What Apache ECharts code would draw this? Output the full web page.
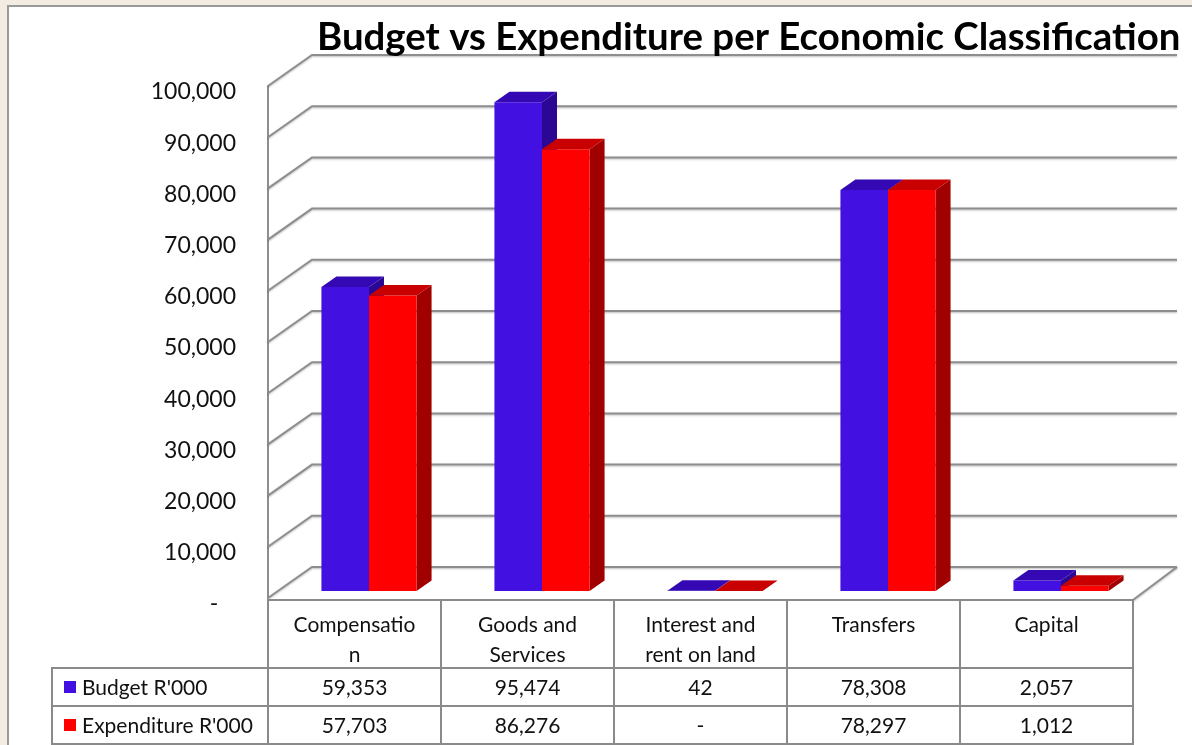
<!DOCTYPE html>
<html>
<head>
<meta charset="utf-8">
<title>Budget vs Expenditure per Economic Classification</title>
<script src="https://cdn.jsdelivr.net/npm/echarts@6/dist/echarts.min.js"></script>
<style>
  html, body { margin: 0; padding: 0; background: #f2ece2; }
  #chart { width: 1192px; height: 745px; }
</style>
</head>
<body>
<div id="chart"></div>
<script>
// ---- data ----
const categories = ['Compensation', 'Goods and Services', 'Interest and rent on land', 'Transfers', 'Capital'];
const headerLabels = ['Compensatio\nn', 'Goods and\nServices', 'Interest and\nrent on land', 'Transfers', 'Capital'];
const seriesNames = ["Budget R'000", "Expenditure R'000"];
const budget = [59353, 95474, 42, 78308, 2057];
const expenditure = [57703, 86276, 0, 78297, 1012];
const yTicks = [0, 10000, 20000, 30000, 40000, 50000, 60000, 70000, 80000, 90000, 100000];

// ---- look ----
const FONT = 'Lato, "Open Sans", sans-serif';
const GRID_COLOR = '#8e8e8e';
const DEPTH_X = 44, DEPTH_Y = 31;          // full floor depth (oblique projection)
const BAR_SHIFT_X = 14.5, BAR_SHIFT_Y = 7; // bars set back from the front edge
const BAR_DEPTH_X = 15, BAR_DEPTH_Y = 10.5;
const BAR_FRAC = 0.275;                    // each bar's share of a category band
const palettes = [
  { front: '#4210e0', top: '#3409b4', side: '#2a0894' },
  { front: '#ff0000', top: '#c80000', side: '#a00000' }
];

const fmt = v => v === 0 ? '-' : v.toLocaleString('en-US');
// accounting-style zero: dash held away from the right edge
const fmtAxis = v => v === 0 ? '-\u00a0\u00a0\u00a0' : v.toLocaleString('en-US');

const chart = echarts.init(document.getElementById('chart'), null, { renderer: 'canvas' });

// back wall, side wall and floor lines for every y tick
function renderWall(params, api) {
  const v = api.value(0);
  const left = api.coord([0, v]);
  const bw = api.size([1, 0])[0];
  const x0 = left[0] - bw / 2;
  const y = left[1];
  const x1 = x0 + bw * categories.length;
  const lineStyle = { stroke: GRID_COLOR, lineWidth: 2, shadowBlur: 2, shadowColor: 'rgba(0,0,0,0.25)', shadowOffsetY: 1 };
  const children = [{
    type: 'polyline',
    shape: { points: [[x0, y], [x0 + DEPTH_X, y - DEPTH_Y], [x1 + DEPTH_X, y - DEPTH_Y]] },
    style: Object.assign({ fill: null }, lineStyle)
  }];
  if (v === 0) {
    children.push({
      type: 'line',
      shape: { x1: x1, y1: y + 2, x2: x1 + DEPTH_X, y2: y - DEPTH_Y },
      style: lineStyle
    });
  }
  return { type: 'group', children: children };
}

// pseudo-3D column: front face, top face and right side face
function makeBarRenderer(s) {
  return function (params, api) {
    const i = api.value(0);
    const v = api.value(1);
    const top = api.coord([i, v]);
    const base = api.coord([i, 0]);
    const bw = api.size([1, 0])[0];
    const w = bw * BAR_FRAC;
    const xl = top[0] - w + s * w + BAR_SHIFT_X;
    const xr = xl + w;
    const yt = top[1] - BAR_SHIFT_Y;
    const yb = base[1] - BAR_SHIFT_Y;
    const pal = palettes[s];
    return {
      type: 'group',
      children: [
        { type: 'polygon', shape: { points: [[xr, yt], [xr + BAR_DEPTH_X, yt - BAR_DEPTH_Y], [xr + BAR_DEPTH_X, yb - BAR_DEPTH_Y], [xr, yb]] }, style: { fill: pal.side } },
        { type: 'rect', shape: { x: xl, y: yt, width: w, height: Math.max(yb - yt, 0) }, style: { fill: pal.front } },
        { type: 'polygon', shape: { points: [[xl, yt], [xl + BAR_DEPTH_X, yt - BAR_DEPTH_Y], [xr + BAR_DEPTH_X, yt - BAR_DEPTH_Y], [xr, yt]] }, style: { fill: pal.top } }
      ]
    };
  };
}

// data table under the plot: header row plus one row per series
const TABLE_STROKE = { stroke: '#8a8a8a', lineWidth: 2, fill: null };
const HEADER_H = 68, ROW_H = 38, LABEL_COL_W = 216;
function renderTable(params, api) {
  const i = api.value(0);
  const base = api.coord([i, 0]);
  const bw = api.size([1, 0])[0];
  const x0 = base[0] - bw / 2;
  const y0 = base[1] + 2;
  const cx = base[0];
  const rows = [budget, expenditure];
  const textStyle = { fontFamily: FONT, fontSize: 21, fill: '#111', align: 'center' };
  const children = [
    { type: 'rect', shape: { x: x0, y: y0, width: bw, height: HEADER_H }, style: TABLE_STROKE },
    { type: 'text', style: Object.assign({ x: cx, y: y0 + 10, text: headerLabels[i], verticalAlign: 'top', lineHeight: 30 }, textStyle) }
  ];
  rows.forEach((arr, r) => {
    const ry = y0 + HEADER_H + r * ROW_H;
    children.push({ type: 'rect', shape: { x: x0, y: ry, width: bw, height: ROW_H }, style: TABLE_STROKE });
    children.push({ type: 'text', style: Object.assign({ x: cx, y: ry + ROW_H / 2 + 1, text: fmt(arr[i]), verticalAlign: 'middle' }, textStyle) });
    if (i === 0) {
      const lx = x0 - LABEL_COL_W;
      children.push({ type: 'rect', shape: { x: lx, y: ry, width: LABEL_COL_W, height: ROW_H }, style: TABLE_STROKE });
      children.push({ type: 'rect', shape: { x: lx + 12, y: ry + 13, width: 12, height: 12 }, style: { fill: palettes[r].front } });
      children.push({ type: 'text', style: { x: lx + 30, y: ry + ROW_H / 2 + 1, text: seriesNames[r], verticalAlign: 'middle', align: 'left', fontFamily: FONT, fontSize: 21, fill: '#111' } });
    }
  });
  return { type: 'group', children: children };
}

chart.setOption({
  backgroundColor: '#f2ece2',
  animation: false,
  title: {
    text: 'Budget vs Expenditure per Economic Classification',
    left: 312,
    top: 14,
    textStyle: { fontFamily: FONT, fontSize: 38.4, fontWeight: 'bold', color: '#000' }
  },
  graphic: [{
    type: 'rect',
    z: -10,
    shape: { x: 8, y: 6, width: 1300, height: 900 },
    style: { fill: '#ffffff', stroke: '#9a9a9a', lineWidth: 2 }
  }],
  grid: { left: 268, right: 59, top: 86, bottom: 147 },
  xAxis: {
    type: 'category',
    data: categories,
    axisLine: { show: false },
    axisTick: { show: false },
    axisLabel: { show: false },
    splitLine: { show: false }
  },
  yAxis: {
    type: 'value',
    min: 0,
    max: 100000,
    interval: 10000,
    axisLine: { show: true, lineStyle: { color: GRID_COLOR, width: 2 } },
    axisTick: { show: false },
    splitLine: { show: false },
    axisLabel: {
      margin: 32,
      verticalAlign: 'top',
      lineHeight: 12,
      formatter: v => fmtAxis(v),
      fontFamily: FONT,
      fontSize: 23,
      color: '#111'
    }
  },
  series: [
    {
      type: 'custom',
      name: 'wall',
      clip: false,
      silent: true,
      renderItem: renderWall,
      data: yTicks.map(v => [v]),
      encode: { y: 0 },
      z: 1
    },
    {
      type: 'custom',
      name: seriesNames[0],
      clip: false,
      renderItem: makeBarRenderer(0),
      data: budget.map((v, i) => [i, v]),
      encode: { x: 0, y: 1 },
      z: 2
    },
    {
      type: 'custom',
      name: seriesNames[1],
      clip: false,
      renderItem: makeBarRenderer(1),
      data: expenditure.map((v, i) => [i, v]),
      encode: { x: 0, y: 1 },
      z: 3
    },
    {
      type: 'custom',
      name: 'table',
      clip: false,
      silent: true,
      renderItem: renderTable,
      data: categories.map((c, i) => [i]),
      encode: { x: 0 },
      z: 4
    }
  ]
});
</script>
</body>
</html>
